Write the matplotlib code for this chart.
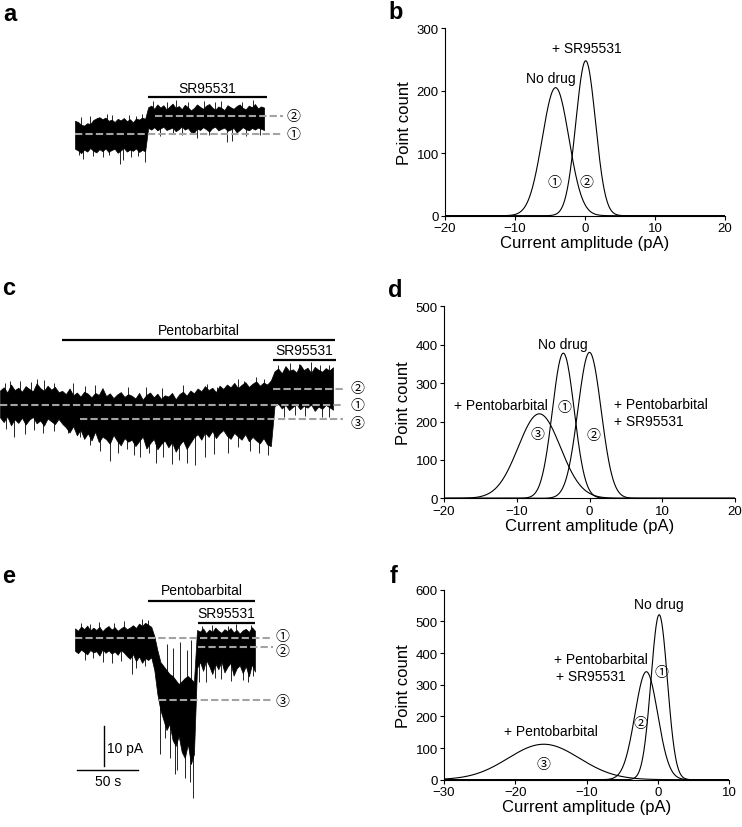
import numpy as np
import matplotlib.pyplot as plt

plt.rcParams['font.family'] = ['Liberation Sans', 'Noto Sans CJK JP', 'DejaVu Sans']

W, H = 742, 828
SX = 1.22   # px per second
SY = 4.0    # px per pA

# ---- trace a (SR95531 alone), 2.5 s samples, pA ----
dt_a = 2.5
up_a = [-1.2, -1.5, -2.2, -2.4, -1.8, -2.0, -1.0, -0.6, -0.3, -0.8, -0.4, -1.2,
        -0.9, -1.5, -0.7, -1.1, -0.5, -1.3, -0.8, -1.6, -0.6, -0.9, -0.4, -0.7,
        2.2, 2.6, 1.8, 2.9, 2.1, 2.7, 1.6, 2.4, 3.1, 2.0, 2.5, 1.7, 2.8, 2.2, 1.4,
        2.0, 2.9, 2.3, 1.8, 2.6, 3.0, 2.1, 1.6, 2.4, 2.0, 1.5, 2.7, 2.2, 1.8, 2.5,
        2.9, 2.0, 1.7, 2.6, 2.2, 3.0, 1.9, 2.4, 2.1]
lo_a = [-8.2, -8.6, -9.3, -8.4, -8.9, -8.0, -8.7, -9.1, -8.3, -8.8, -8.1, -9.0,
        -8.5, -8.2, -9.2, -8.6, -8.0, -8.9, -8.4, -8.7, -8.1, -9.0, -8.5, -8.8,
        -3.0, -3.4, -2.8, -3.6, -3.1, -2.7, -3.5, -3.2, -2.9, -3.8, -3.3, -2.6,
        -3.4, -3.0, -4.0, -4.2, -3.1, -3.5, -2.8, -3.3, -3.9, -3.0, -2.7, -3.6,
        -3.2, -2.9, -3.7, -3.4, -3.0, -4.1, -3.5, -2.8, -3.3, -3.6, -3.0, -3.4,
        -2.9, -3.2, -3.5]
dn_a = [(3.0, -9.8), (6.8, -10.8), (15.0, -10.0), (23.0, -10.3), (28.0, -9.8),
        (36.9, -12.0), (39.6, -11.0), (46.0, -10.2), (52.0, -10.0), (57.4, -11.5),
        (69.7, -5.0), (80.0, -4.6), (88.0, -4.8), (99.7, -5.4), (110.0, -4.7),
        (124.3, -6.5), (128.4, -6.3), (140.0, -4.9), (152.0, -4.8)]
up_sp_a = [(5.0, -0.2), (12.0, 0.0), (18.0, -0.5), (26.0, 0.5), (30.0, 0.3),
           (44.0, 0.2), (50.0, -0.1), (55.0, 0.4), (64.0, 3.8), (75.0, 3.6),
           (83.0, 3.9), (93.0, 3.6), (106.0, 3.7), (115.0, 3.4), (120.0, 3.8),
           (137.0, 3.5), (146.0, 3.9)]
lev_a = [-4.6, 0.0]

# ---- trace c (pentobarbital then SR95531), 3 s samples ----
dt_c = 3.0
up_c = [-0.3, 0.5, -0.8, 1.2, -0.2, 0.4, -0.6, 0.8, 0.1, -0.5, 1.5, 0.3, -0.4,
        0.9, -0.1, 0.6, -0.7,
        -0.4, -1.2, 0.2, -1.5, -0.8, -1.8, -0.6, -1.1, -2.0, -0.9, -1.4, 0.3,
        -1.7, -1.0, -2.2, -1.3, -0.7, -1.9, -1.2,
        -1.6, -2.3, -0.9, -2.6, -1.4, -0.8, -2.0, -1.1, -2.4, -1.5,
        -1.8, -0.9, -2.5, -1.2, -0.6, -1.6, -0.3, -1.0, 0.2, -0.5, 0.8, -0.2,
        0.4, -0.7, 0.9, 0.1, 1.2, 0.5, 1.6, 0.3, 1.1, 1.8, 0.6, 1.4, 2.0, 0.9,
        1.7, 1.2, 2.2,
        4.5, 5.2, 4.0, 5.8, 4.6, 5.0, 4.2, 6.2, 4.8, 5.4, 4.1, 5.6, 4.9, 4.4,
        5.3, 4.7, 5.5]
lo_c = [-7.0, -8.2, -6.8, -9.0, -7.5, -8.4, -7.1, -8.8, -7.6, -6.9, -8.5, -7.8,
        -9.1, -7.3, -8.0, -8.7, -7.4,
        -8.6, -9.5, -10.8, -9.2, -11.5, -10.1, -12.4, -11.0, -12.8, -10.6,
        -13.2, -11.8, -12.5, -13.6, -11.4, -12.9, -14.0, -12.2, -13.1,
        -12.6, -14.2, -13.0, -11.8, -14.8, -13.5, -12.4, -15.0, -13.7, -12.8,
        -14.5, -13.2, -15.6, -14.0, -12.8, -14.9, -13.4, -12.0, -11.2, -12.6,
        -10.8, -11.9, -10.4, -12.2, -11.0, -10.2, -11.6, -12.4, -10.9, -11.8,
        -12.6, -11.2, -13.0, -11.9, -12.8, -13.5, -12.2, -13.8, -14.2,
        -4.2, -3.6, -4.8, -3.9, -5.2, -4.4, -3.7, -5.0, -4.1, -4.6, -3.8, -5.4,
        -4.3, -4.9, -3.9, -4.5, -5.1]
dn_c = [(5.0, -10.0), (11.5, -12.0), (20.5, -11.2), (28.0, -10.2), (35.5, -10.8),
        (44.0, -10.5), (56.0, -11.0), (65.6, -11.8), (74.0, -14.0), (82.0, -15.4),
        (90.0, -18.0), (97.0, -16.0), (104.0, -15.0), (110.0, -16.5),
        (115.0, -17.0), (122.0, -16.0), (128.0, -18.5), (134.0, -16.8),
        (141.0, -18.7), (147.0, -17.6), (153.0, -18.5), (160.0, -19.0),
        (168.0, -17.0), (175.0, -16.2), (187.0, -16.0), (195.0, -14.5),
        (205.0, -15.5), (212.0, -15.8), (220.0, -16.5), (233.0, -6.8),
        (242.0, -6.5), (250.0, -6.6), (264.0, -7.0), (270.0, -6.8)]
up_sp_c = [(4.0, 1.6), (8.0, 2.0), (16.0, 2.2), (25.0, 1.8), (30.0, 2.5),
           (36.0, 2.4), (44.0, 1.7), (60.0, 1.5), (70.0, 0.8), (78.0, 1.2),
           (105.0, 0.5), (120.0, 0.7), (133.0, 0.4), (150.0, 1.0), (170.0, 1.4),
           (178.0, 0.6), (195.0, 2.6), (200.0, 2.2), (210.0, 3.0), (216.0, 2.5),
           (228.0, 6.0), (238.0, 6.6), (245.0, 6.4), (255.0, 6.8), (262.0, 6.0),
           (270.0, 6.2)]
lev_c = [-3.85, 0.0, -7.5]

# ---- trace e (large pentobarbital response), 2.5 s samples ----
dt_e = 2.5
up_e = [2.4, 1.8, 2.9, 2.2, 3.1, 1.9, 2.6, 2.0, 2.8, 1.7, 2.5, 3.0, 2.1, 2.7,
        1.8, 2.4, 2.9, 2.2, 2.6, 3.2, 2.5, 3.6, 3.0, 3.8, 3.3, 2.8,
        0.5, -3.0, -6.0,
        -7.0, -8.0, -9.0, -9.5, -10.5, -11.5, -10.8, -10.0, -9.5, -10.2, -11.0,
        2.0, 1.6, 2.4, 1.2, 2.1, 1.5, 2.6, 1.8, 1.3, 2.2, 1.7, 2.5, 1.4, 2.0,
        1.1, 1.9, 2.3, 1.5, 2.7, 1.8]
lo_e = [-3.2, -3.8, -2.9, -3.5, -4.1, -3.0, -3.6, -3.3, -4.4, -2.8, -3.7, -3.1,
        -3.9, -3.4, -4.2, -3.0, -3.6, -4.5, -5.2, -4.0, -5.8, -4.6, -6.2, -5.0,
        -5.5, -4.8,
        -8.0, -14.0, -18.0,
        -20.5, -23.0, -21.5, -25.5, -27.0, -24.5, -28.5, -30.0, -26.5, -31.5,
        -29.0,
        -7.5, -6.0, -8.2, -5.5, -7.0, -9.0, -6.4, -7.8, -5.8, -8.6, -7.2, -6.2,
        -9.4, -7.6, -6.8, -8.8, -7.0, -9.6, -6.6, -8.4]
dn_e = [(8.0, -5.5), (15.0, -5.0), (23.0, -6.0), (30.0, -6.2), (38.0, -5.8),
        (46.4, -9.0), (50.0, -7.5), (57.0, -7.0), (69.7, -29.0), (74.0, -25.0),
        (78.0, -30.0), (82.0, -34.0), (84.0, -33.0), (88.0, -28.0),
        (90.0, -35.0), (94.0, -36.0), (97.0, -40.0), (102.0, -11.0),
        (107.0, -11.0), (115.0, -10.0), (120.0, -10.2), (128.0, -10.8),
        (138.0, -10.5), (142.0, -11.0), (146.0, -9.5)]
up_sp_e = [(5.0, 3.8), (12.0, 3.6), (20.0, 4.0), (32.0, 3.8), (40.0, 4.2),
           (55.0, 4.8), (60.0, 4.5), (75.0, -1.5), (80.0, -2.5), (86.0, -1.0),
           (92.0, -3.0), (95.0, -0.5), (104.0, 3.0), (112.0, 3.2),
           (125.0, 3.0), (132.0, 3.4), (144.0, 3.2)]
lev_e = [0.0, -2.25, -15.5]

# ---- Gaussian fits of the amplitude histograms ----
b_mean = [-4.2, 0.1]
b_sd = [1.9, 1.4]
b_peak = [205, 248]
d_mean = [-3.6, 0.0, -6.9]
d_sd = [1.5, 1.6, 2.9]
d_peak = [378, 380, 220]
f_mean = [0.2, -1.6, -16.0]
f_sd = [1.15, 1.6, 5.0]
f_peak = [521, 341, 112]

CIRC = ['\u2460', '\u2461', '\u2462']
DASH = '#a3a3a3'
TXT = 10

fig = plt.figure(figsize=(W / 100, H / 100), dpi=100)


def box(x0, y0, x1, y1):
    return [x0 / W, 1 - y1 / H, (x1 - x0) / W, (y1 - y0) / H]


def trace_axes(bx, ox, oy):
    ax = fig.add_axes(box(*bx))
    ax.set_xlim((bx[0] - ox) / SX, (bx[2] - ox) / SX)
    ax.set_ylim((oy - bx[3]) / SY, (oy - bx[1]) / SY)
    ax.axis('off')
    return ax


def draw_trace(ax, dt, up, lo, dn, ups):
    t = np.arange(len(up)) * dt
    ax.fill_between(t, lo, up, color='black', lw=0.5)
    st = np.array([s[0] for s in dn])
    ax.vlines(st, np.interp(st, t, lo) + 1.0, [s[1] for s in dn],
              color='black', lw=0.6)
    st = np.array([s[0] for s in ups])
    ax.vlines(st, np.interp(st, t, up) - 1.0, [s[1] for s in ups],
              color='black', lw=0.6)


def dashed(ax, t0, t1, y):
    ax.plot([t0, t1], [y, y], color=DASH, lw=1.5, ls=(0, (3.5, 1.5)))


def circ(ax, x, y, k):
    ax.text(x, y, CIRC[k], ha='center', va='center', fontsize=10,
            family=['Noto Sans CJK JP', 'DejaVu Sans'])


def bar(ax, t0, t1, y, label, ty):
    ax.plot([t0, t1], [y, y], color='black', lw=1.6, solid_capstyle='butt')
    ax.text((t0 + t1) / 2, ty, label, ha='center', va='center', fontsize=TXT)


# panel a
ax = trace_axes((70, 80, 310, 175), 75, 117)
draw_trace(ax, dt_a, up_a, lo_a, dn_a, up_sp_a)
dashed(ax, 0, 170.5, lev_a[0])
dashed(ax, 65.6, 170.5, lev_a[1])
circ(ax, 178.7, lev_a[1], 1)
circ(ax, 178.7, lev_a[0], 0)
bar(ax, 59.8, 157.4, 4.75, 'SR95531', 7.0)

# panel c
ax = trace_axes((0, 320, 370, 480), 0, 390.3)
draw_trace(ax, dt_c, up_c, lo_c, dn_c, up_sp_c)
dashed(ax, 0, 281, lev_c[0])
dashed(ax, 224, 281, lev_c[1])
dashed(ax, 65.6, 281, lev_c[2])
circ(ax, 292.6, 0.3, 1)
circ(ax, 292.6, -3.9, 0)
circ(ax, 292.6, -8.4, 2)
bar(ax, 50.8, 274.6, 12.3, 'Pentobarbital', 14.8)
bar(ax, 223.8, 275.4, 7.3, 'SR95531', 9.8)

# panel e
ax = trace_axes((70, 580, 300, 805), 75, 639)
draw_trace(ax, dt_e, up_e, lo_e, dn_e, up_sp_e)
dashed(ax, 0, 162, lev_e[0])
dashed(ax, 100.8, 162, lev_e[1])
dashed(ax, 68.9, 162, lev_e[2])
circ(ax, 169.7, 0.5, 0)
circ(ax, 169.7, -3.25, 1)
circ(ax, 169.7, -15.75, 2)
bar(ax, 59.8, 147.5, 9.25, 'Pentobarbital', 12.0)
bar(ax, 100.8, 147.5, 3.75, 'SR95531', 6.25)
# scale bars
ax.plot([23.8, 23.8], [-22, -32], color='black', lw=1.0)
ax.plot([2.0, 52.0], [-33, -33], color='black', lw=1.0)
ax.text(26.2, -27.6, '10 pA', ha='left', va='center', fontsize=TXT)
ax.text(27.0, -35.8, '50 s', ha='center', va='center', fontsize=TXT)


def hist_axes(bx, xlim, xstep, ylim, ystep):
    ax = fig.add_axes(box(*bx))
    ax.set_xlim(*xlim)
    ax.set_ylim(*ylim)
    ax.set_xticks(np.arange(xlim[0], xlim[1] + 1, xstep))
    ax.set_yticks(np.arange(ylim[0], ylim[1] + 1, ystep))
    for s in ['top', 'right']:
        ax.spines[s].set_visible(False)
    for s in ['left', 'bottom']:
        ax.spines[s].set_linewidth(0.8)
    ax.tick_params(direction='out', length=3, width=0.8, labelsize=9.5, pad=1.5)
    ax.set_xlabel('Current amplitude (pA)', fontsize=12, labelpad=1)
    ax.set_ylabel('Point count', fontsize=12, labelpad=3)
    return ax


def gauss(ax, xlim, means, sds, peaks):
    x = np.linspace(xlim[0], xlim[1], 600)
    for m, s, p in zip(means, sds, peaks):
        ax.plot(x, p * np.exp(-0.5 * ((x - m) / s) ** 2), color='black', lw=0.8)


# panel b
ax = hist_axes((445, 29.3, 725, 216.7), (-20, 20), 10, (0, 300), 100)
gauss(ax, (-20, 20), b_mean, b_sd, b_peak)
ax.text(0.3, 268, '+ SR95531', ha='center', va='center', fontsize=TXT)
ax.text(-4.9, 220, 'No drug', ha='center', va='center', fontsize=TXT)
circ(ax, -4.3, 54, 0)
circ(ax, 0.15, 54, 1)

# panel d
ax = hist_axes((444, 307.3, 735, 499.3), (-20, 20), 10, (0, 500), 100)
gauss(ax, (-20, 20), d_mean, d_sd, d_peak)
ax.text(-3.6, 402, 'No drug', ha='center', va='center', fontsize=TXT)
ax.text(-18.6, 243, '+ Pentobarbital', ha='left', va='center', fontsize=TXT)
ax.text(3.4, 246, '+ Pentobarbital', ha='left', va='center', fontsize=TXT)
ax.text(3.4, 201, '+ SR95531', ha='left', va='center', fontsize=TXT)
circ(ax, -3.5, 238, 0)
circ(ax, 0.5, 164, 1)
circ(ax, -7.1, 167, 2)

# panel f
ax = hist_axes((444, 590.7, 729, 780.7), (-30, 10), 10, (0, 600), 100)
gauss(ax, (-30, 10), f_mean, f_sd, f_peak)
ax.text(0.15, 555, 'No drug', ha='center', va='center', fontsize=TXT)
ax.text(-14.6, 381, '+ Pentobarbital', ha='left', va='center', fontsize=TXT)
ax.text(-14.3, 327, '+ SR95531', ha='left', va='center', fontsize=TXT)
ax.text(-21.6, 154, '+ Pentobarbital', ha='left', va='center', fontsize=TXT)
circ(ax, 0.45, 340, 0)
circ(ax, -2.4, 179, 1)
circ(ax, -16.0, 50, 2)

# panel letters
for lab, x, y in [('a', 3, 21), ('b', 388, 19), ('c', 2, 295),
                  ('d', 388, 297), ('e', 2, 583), ('f', 390, 583)]:
    fig.text(x / W, 1 - y / H, lab, ha='left', va='baseline',
             fontsize=17, fontweight='bold')

fig.savefig('out.png', dpi=100)
